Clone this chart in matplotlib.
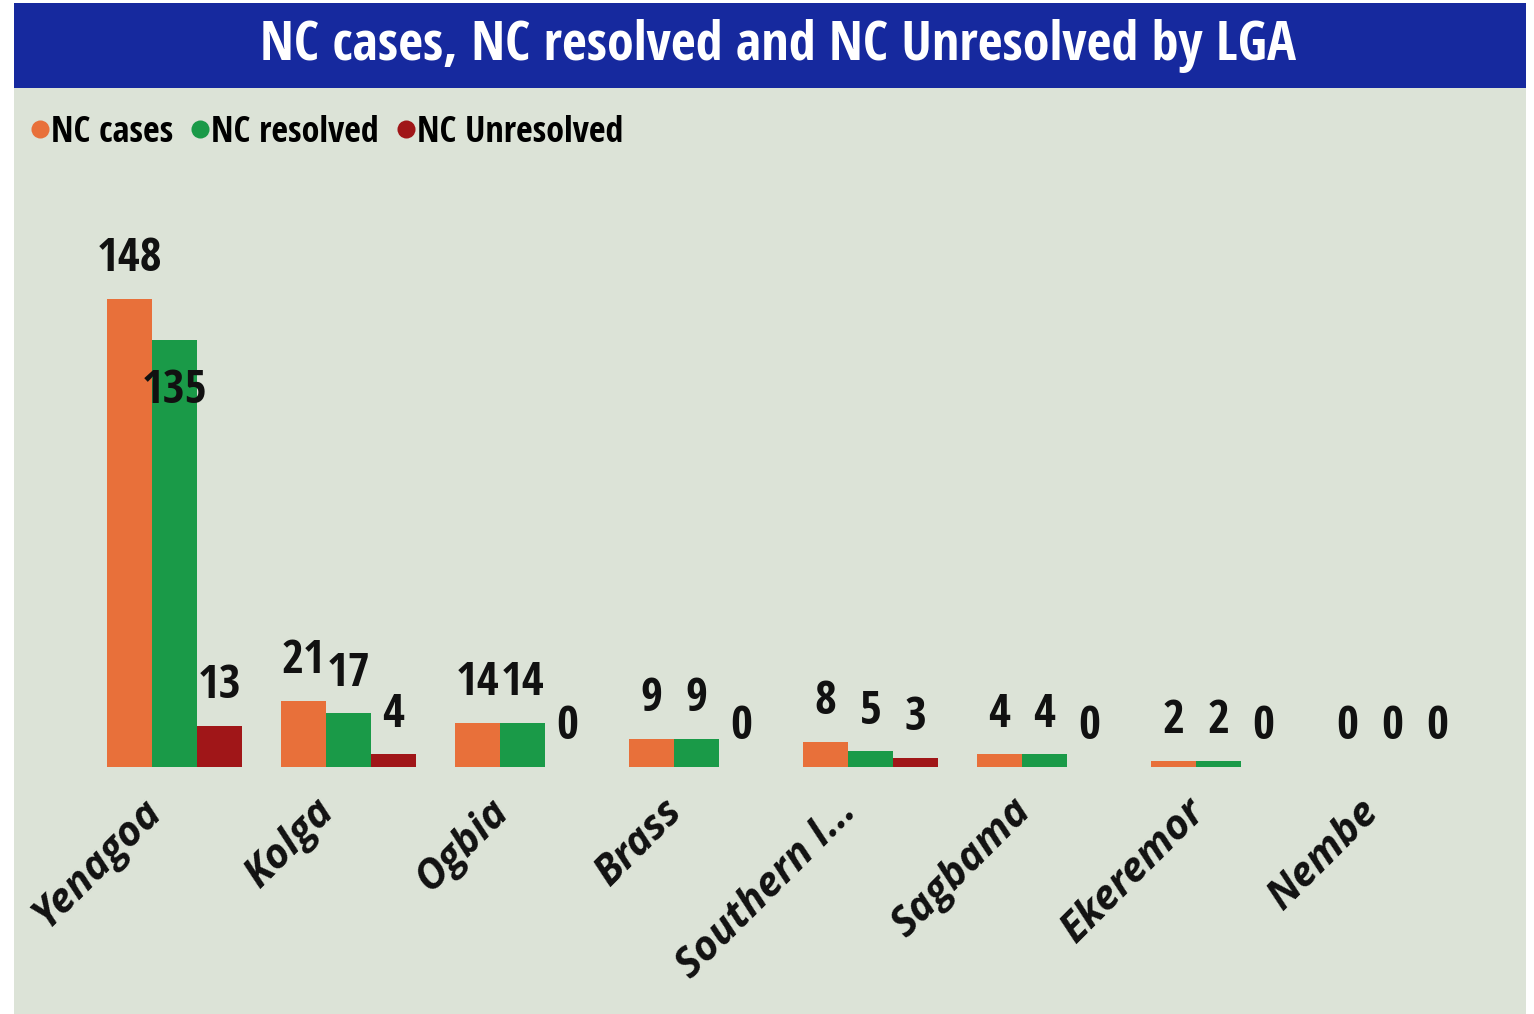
import matplotlib
matplotlib.use("Agg")
import matplotlib.pyplot as plt
from matplotlib.patches import Rectangle
from matplotlib.lines import Line2D
from matplotlib.transforms import ScaledTranslation
import numpy as np

categories = ["Yenagoa", "Kolga", "Ogbia", "Brass", "Southern I...", "Sagbama", "Ekeremor", "Nembe"]
nc_cases = [148, 21, 14, 9, 8, 4, 2, 0]
nc_resolved = [135, 17, 14, 9, 5, 4, 2, 0]
nc_unresolved = [13, 4, 0, 0, 3, 0, 0, 0]
series_names = ["NC cases", "NC resolved", "NC Unresolved"]
colors = ["#e8703a", "#1a9a48", "#a01618"]
title = "NC cases, NC resolved and NC Unresolved by LGA"

narrow = ["Open Sans Condensed", "DejaVu Sans"]
tickfont = ["Open Sans", "DejaVu Sans"]

W, H = 1534, 1014
fig = plt.figure(figsize=(W / 100, H / 100), dpi=100, facecolor="white")

# panel background
fig.patches.append(Rectangle((14 / W, 0), (1526 - 14) / W, 1 - 3 / H,
                             transform=fig.transFigure, facecolor="#dce3d7",
                             edgecolor="none", zorder=-5))
# title bar
fig.patches.append(Rectangle((14 / W, 1 - 88 / H), (1526 - 14) / W, (88 - 3) / H,
                             transform=fig.transFigure, facecolor="#16299e",
                             edgecolor="none", zorder=-4))
fig.text(778 / W, 1 - 46 / H, title, color="white", fontsize=39, fontweight="bold",
         fontstretch="condensed", family=narrow, ha="center", va="center", zorder=2)

base_y = 767
top_y = 200
ax = fig.add_axes([87.5 / W, 1 - base_y / H, 1392 / W, (base_y - top_y) / H])
ax.set_zorder(3)
ax.set_facecolor("none")
ymax = 148 * (base_y - top_y) / (767 - 299)
ax.set_ylim(0, ymax)
ax.set_xlim(-0.5, len(categories) - 0.5)
for s in ax.spines.values():
    s.set_visible(False)
ax.set_yticks([])

x = np.arange(len(categories))
bw = 45 / 174
all_series = [nc_cases, nc_resolved, nc_unresolved]
for i, (vals, col, nm) in enumerate(zip(all_series, colors, series_names)):
    xs = x + (i - 1) * bw
    ax.bar(xs, vals, width=bw, color=col, label=nm)
    for j, (xx, v) in enumerate(zip(xs, vals)):
        inside = (i == 1 and j == 0)
        if inside:
            ax.annotate(str(v), (xx, v), xytext=(0, -36), textcoords="offset points",
                        ha="center", va="center", fontsize=34, fontweight="bold",
                        fontstretch="condensed", family=narrow, color="#111111")
        else:
            ax.annotate(str(v), (xx, v), xytext=(0, 12), textcoords="offset points",
                        ha="center", va="bottom", fontsize=34, fontweight="bold",
                        fontstretch="condensed", family=narrow, color="#111111")

ax.set_xticks(x)
ax.set_xticklabels(categories, rotation=45, ha="right", va="top",
                   rotation_mode="anchor", fontsize=29.5, fontweight="bold",
                   fontstyle="italic", family=tickfont, color="#111111")
ax.tick_params(axis="x", length=0, pad=16)
shift = ScaledTranslation(-34 / 100, -2 / 100, fig.dpi_scale_trans)
for lab in ax.get_xticklabels():
    lab.set_transform(lab.get_transform() + shift)

handles = [Line2D([], [], marker="o", linestyle="none", markersize=13,
                  markerfacecolor=c, markeredgecolor="none") for c in colors]
leg = fig.legend(handles, series_names, loc="center left",
                 bbox_to_anchor=(22 / W, 1 - 133 / H), ncol=3, frameon=False,
                 handletextpad=-0.2, columnspacing=0.25, handlelength=1.0,
                 prop={"family": narrow, "weight": "bold", "stretch": "condensed", "size": 26},
                 borderaxespad=0, borderpad=0)

fig.savefig("out.png", dpi=100, facecolor=fig.get_facecolor())
